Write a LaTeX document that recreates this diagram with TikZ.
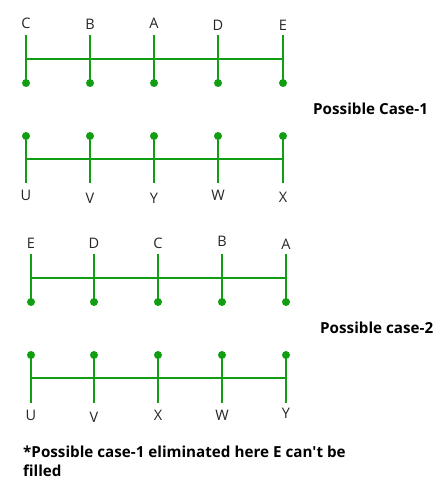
\documentclass[tikz,border=0pt]{standalone}
\usepackage{fontspec}
\setmainfont{Open Sans}
\usepackage{tikz}
\usetikzlibrary{positioning}

\definecolor{linegreen}{RGB}{18,158,18}

\tikzset{
  tick/.style={draw=linegreen, line width=2pt},
  knob/.style={fill=linegreen},
  lbl/.style={inner sep=0pt, font=\fontsize{14.5}{17}\selectfont, text=black!85},
  caption/.style={inner sep=0pt, anchor=base west, font=\fontsize{15.2}{19}\selectfont\bfseries, text=black}
}

\begin{document}
\begin{tikzpicture}[x=1pt,y=-1pt]
		\useasboundingbox (0,0) rectangle (440,490);
		% case 1, upper row: labels on top, knobs below
		\foreach \n/\x/\l/\ly in {a/26/C/23, b/90/B/24, c/154/A/23, d/218/D/25, e/283/E/25}{
			\node[lbl] (ua\n) at (\x,\ly) {\l};
			\coordinate (ua\n-t) at (\x,35);
			\coordinate (ua\n-h) at (\x,59);
			\coordinate (ua\n-k) at (\x,83);
			\draw[tick] (ua\n-t) -- (ua\n-k);
			\fill[knob] (ua\n-k) circle (4);
		}
		\draw[tick] (uaa-h) -- (uae-h);
		% case 1, lower row: knobs on top, labels below
		\foreach \n/\x/\l/\ly in {a/26/U/195, b/90/V/198, c/154/Y/198, d/218/W/195, e/283/X/197}{
			\node[lbl] (ub\n) at (\x,\ly) {\l};
			\coordinate (ub\n-k) at (\x,136);
			\coordinate (ub\n-h) at (\x,159);
			\coordinate (ub\n-b) at (\x,183);
			\draw[tick] (ub\n-k) -- (ub\n-b);
			\fill[knob] (ub\n-k) circle (4);
		}
		\draw[tick] (uba-h) -- (ube-h);
		\node[caption] (case1) at (313,114) {Possible Case-1};
		% case 2, upper row
		\foreach \n/\x/\l/\ly in {a/31/E/243, b/94/D/243, c/158/C/243, d/222/B/241, e/286/A/244}{
			\node[lbl] (la\n) at (\x,\ly) {\l};
			\coordinate (la\n-t) at (\x,254);
			\coordinate (la\n-h) at (\x,278);
			\coordinate (la\n-k) at (\x,302);
			\draw[tick] (la\n-t) -- (la\n-k);
			\fill[knob] (la\n-k) circle (4);
		}
		\draw[tick] (laa-h) -- (lae-h);
		% case 2, lower row
		\foreach \n/\x/\l/\ly in {a/31/U/415, b/94/V/417, c/158/X/415, d/222/W/415, e/286/Y/413}{
			\node[lbl] (lb\n) at (\x,\ly) {\l};
			\coordinate (lb\n-k) at (\x,355);
			\coordinate (lb\n-h) at (\x,378);
			\coordinate (lb\n-b) at (\x,403);
			\draw[tick] (lb\n-k) -- (lb\n-b);
			\fill[knob] (lb\n-k) circle (4);
		}
		\draw[tick] (lba-h) -- (lbe-h);
		\node[caption] (case2) at (320,333) {Possible case-2};
		% note at the bottom
		\node[caption] (note1) at (23,457) {*Possible case-1 eliminated here E can\textquotesingle t be};
		\node[caption] (note2) at (23,476) {filled};
	\end{tikzpicture}
\end{document}
